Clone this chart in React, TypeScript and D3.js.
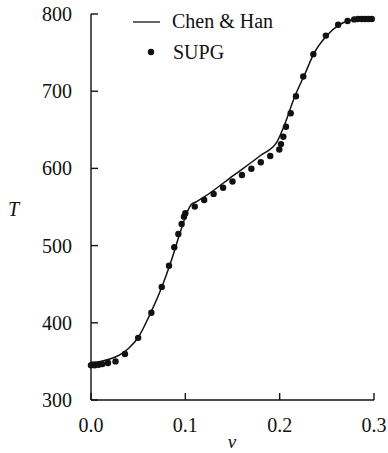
import React from "react";
import * as d3 from "d3";

const xTicks = [0, 0.1, 0.2, 0.3];
const yTicks = [300, 400, 500, 600, 700, 800];

const chenV = [0, 0.01, 0.02, 0.03, 0.04, 0.05, 0.0625, 0.075, 0.085, 0.095, 0.1, 0.106, 0.112, 0.12, 0.15, 0.18, 0.197, 0.205, 0.215, 0.227, 0.236, 0.25, 0.263, 0.275, 0.285, 0.3];
const chenT = [349, 350, 353, 358, 367, 381, 411, 446, 480, 519, 537, 553, 557, 563, 590, 617, 634, 656, 690, 723, 748, 772, 786, 792, 794, 795];

const supgV = [0, 0.004, 0.008, 0.012, 0.018, 0.026, 0.036, 0.05, 0.064, 0.075, 0.0827, 0.0883, 0.0926, 0.0961, 0.0986, 0.1, 0.11, 0.12, 0.13, 0.14, 0.15, 0.16, 0.17, 0.18, 0.19, 0.1996, 0.2014, 0.2039, 0.2067, 0.2117, 0.2173, 0.225, 0.2357, 0.249, 0.262, 0.272, 0.279, 0.283, 0.287, 0.2905, 0.294, 0.2976];
const supgT = [345, 345, 345.5, 346.5, 348, 350, 359.5, 380.5, 413, 446.5, 474, 498, 515, 528, 537.5, 542, 550.5, 559, 567, 575, 583, 591.5, 599.5, 608, 616, 624.5, 631.5, 641, 654, 671.5, 693.5, 719, 748, 772, 786, 791, 793, 793.5, 793.5, 793.5, 793.5, 793.5];

const FONT = "'Liberation Serif', 'Times New Roman', serif";

export default function App() {
  const x = d3.scaleLinear().domain([0, 0.3]).range([91, 374]);
  const y = d3.scaleLinear().domain([300, 800]).range([400, 14]);
  const line = d3
    .line<number>()
    .x((_, i) => x(chenV[i]))
    .y((d) => y(d))
    .curve(d3.curveMonotoneX);
  const ink = "#111";
  return (
    <svg width={388} height={453} style={{ position: "absolute", left: 0, top: 0, background: "#fff" }}>
      <rect width={388} height={453} fill="#fff" />
      {/* axes */}
      <line x1={x(0)} x2={x(0)} y1={y(800)} y2={y(300)} stroke={ink} strokeWidth={1.4} />
      <line x1={x(0)} x2={x(0.3)} y1={y(300)} y2={y(300)} stroke={ink} strokeWidth={1.4} />
      {yTicks.map((t) => (
        <g key={"y" + t}>
          <line x1={x(0)} x2={x(0) + 7} y1={y(t)} y2={y(t)} stroke={ink} strokeWidth={1.4} />
          <text x={72} y={y(t)} dy="0.35em" textAnchor="end" fontFamily={FONT} fontSize={20} fill={ink}>
            {t}
          </text>
        </g>
      ))}
      {xTicks.map((t) => (
        <g key={"x" + t}>
          <line x1={x(t)} x2={x(t)} y1={y(300)} y2={y(300) - 7} stroke={ink} strokeWidth={1.4} />
          <text x={x(t)} y={432} textAnchor="middle" fontFamily={FONT} fontSize={20} fill={ink}>
            {t.toFixed(1)}
          </text>
        </g>
      ))}
      <text x={8} y={216} fontFamily={FONT} fontStyle="italic" fontSize={20} fill={ink}>
        T
      </text>
      <text x={232} y={448} textAnchor="middle" fontFamily={FONT} fontStyle="italic" fontSize={19} fill={ink}>
        v
      </text>
      {/* data */}
      <path d={line(chenT) || ""} fill="none" stroke={ink} strokeWidth={1.5} />
      {supgV.map((v, i) => (
        <circle key={"p" + i} cx={x(v)} cy={y(supgT[i])} r={3.2} fill={ink} />
      ))}
      {/* legend */}
      <line x1={133} x2={160} y1={22} y2={22} stroke={ink} strokeWidth={1.3} />
      <text x={172} y={28} fontFamily={FONT} fontSize={20} fill={ink}>
        Chen &amp; Han
      </text>
      <circle cx={151} cy={52} r={3.2} fill={ink} />
      <text x={173} y={59} fontFamily={FONT} fontSize={20} fill={ink}>
        SUPG
      </text>
    </svg>
  );
}
